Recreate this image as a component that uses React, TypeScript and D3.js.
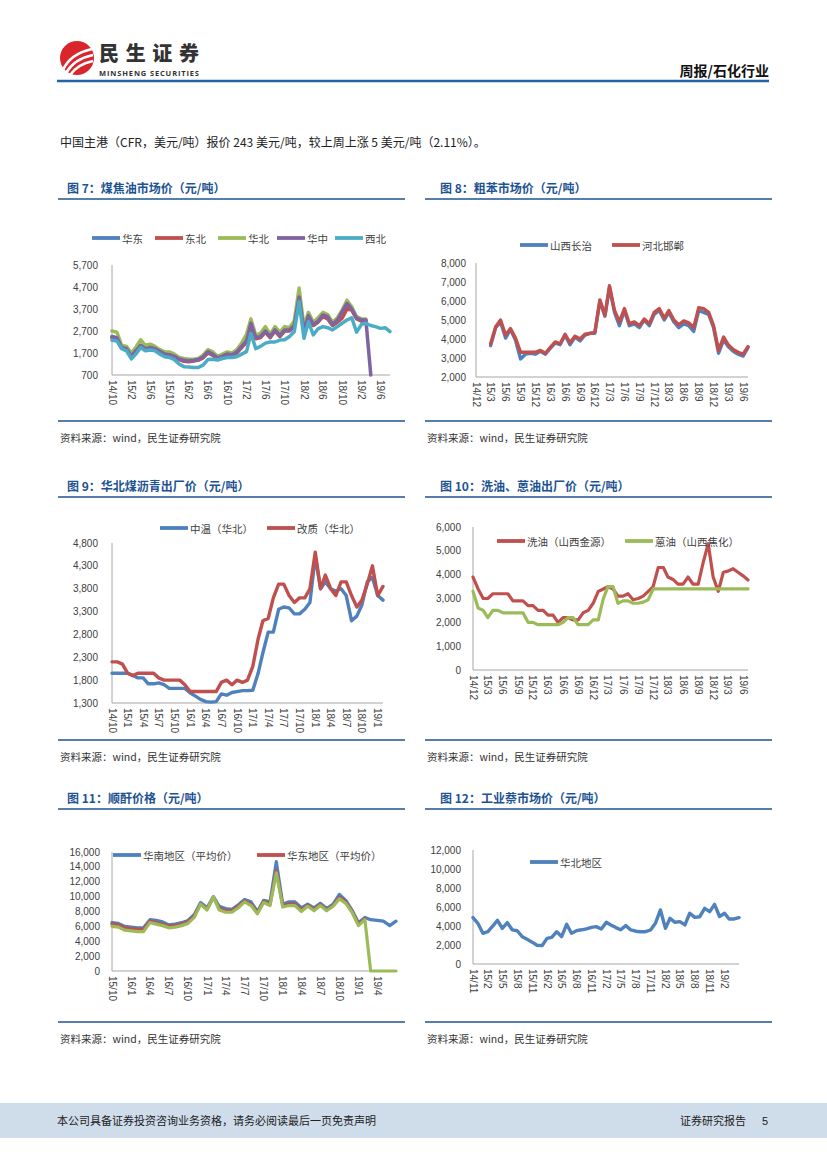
import React, { useEffect, useRef } from 'react';
import * as d3 from 'd3';

// ---------- 图7 煤焦油市场价 (monthly from 14/10)
const C7_START = '2014-10';
const C7_X_LABELS = ['14/10', '15/2', '15/6', '15/10', '16/2', '16/6', '16/10', '17/2', '17/6', '17/10', '18/2', '18/6', '18/10', '19/2', '19/6'];
const C7_Y_TICKS = [700, 1700, 2700, 3700, 4700, 5700];
const C7_HUADONG = [2420, 2360, 1930, 1870, 1530, 1780, 2020, 1880, 1920, 1870, 1760, 1630, 1600, 1530, 1420, 1350, 1330, 1350, 1390, 1500, 1730, 1620, 1460, 1540, 1620, 1600, 1720, 1970, 2220, 3000, 2370, 2420, 2680, 2420, 2720, 2470, 2720, 2720, 2920, 4180, 2670, 3370, 2970, 3120, 3400, 3300, 2970, 3150, 3450, 3850, 3680, 3280, 3170, 3180, null, null, null, null, null];
const C7_DONGBEI = [2380, 2330, 1920, 1850, 1520, 1760, 2000, 1860, 1900, 1850, 1740, 1620, 1580, 1520, 1400, 1320, 1300, 1330, 1380, 1480, 1700, 1600, 1450, 1520, 1600, 1580, 1700, 1950, 2200, 2950, 2350, 2400, 2650, 2400, 2700, 2450, 2700, 2700, 2900, 4100, 2650, 3350, 2950, 3100, 3350, 3250, 2950, 3100, 3280, 3700, 3650, 3250, 3150, 3150, null, null, null, null, null];
const C7_HUABEI = [2700, 2650, 2050, 2000, 1700, 1950, 2300, 2050, 2100, 2000, 1850, 1750, 1750, 1650, 1500, 1450, 1420, 1420, 1450, 1600, 1850, 1750, 1550, 1650, 1750, 1700, 1850, 2150, 2550, 3250, 2500, 2600, 2900, 2550, 2900, 2650, 2900, 2850, 3150, 4650, 2900, 3550, 3100, 3300, 3550, 3450, 3100, 3300, 3650, 4100, 3800, 3350, 3250, 3250, null, null, null, null, null];
const C7_HUAZHONG = [2450, 2400, 1950, 1900, 1550, 1800, 2050, 1900, 1950, 1900, 1780, 1650, 1620, 1550, 1430, 1370, 1350, 1370, 1400, 1520, 1760, 1650, 1480, 1560, 1650, 1620, 1750, 2000, 2250, 3050, 2400, 2450, 2700, 2450, 2750, 2500, 2750, 2750, 2950, 4250, 2700, 3400, 3000, 3150, 3430, 3350, 3000, 3200, 3580, 3950, 3700, 3300, 3200, 3200, 700, null, null, null, null];
const C7_XIBEI = [2280, 2250, 1900, 1800, 1430, 1650, 1950, 1800, 1840, 1800, 1650, 1530, 1500, 1400, 1200, 1080, 1060, 1040, 1040, 1150, 1400, 1420, 1380, 1450, 1490, 1500, 1530, 1650, 1760, 2590, 1900, 2000, 2150, 2200, 2200, 2290, 2300, 2450, 2670, 4030, 2370, 3120, 2520, 2800, 2900, 2850, 2750, 2900, 3050, 3200, 3300, 2650, 3000, 3050, 2950, 2900, 2820, 2850, 2670];

// ---------- 图8 粗苯市场价 (monthly from 15/3)
const C8_START = '2015-03';
const C8_X_LABELS = ['14/12', '15/3', '15/6', '15/9', '15/12', '16/3', '16/6', '16/9', '16/12', '17/3', '17/6', '17/9', '17/12', '18/3', '18/6', '18/9', '18/12', '19/3', '19/6'];
const C8_Y_TICKS = [2000, 3000, 4000, 5000, 6000, 7000, 8000];
const C8_CHANGZHI = [3650, 4600, 4900, 4050, 4500, 3950, 2950, 3200, 3250, 3200, 3350, 3200, 3500, 3800, 3700, 4200, 3700, 4100, 3900, 4200, 4300, 4300, 6000, 5200, 6700, 5400, 4700, 5500, 4700, 4800, 4600, 5000, 4700, 5300, 5500, 5000, 5400, 4900, 4600, 4800, 4700, 4400, 5500, 5400, 5300, 4600, 3250, 3950, 3600, 3350, 3200, 3100, 3550];
const C8_HANDAN = [3750, 4650, 5000, 4200, 4550, 4050, 3300, 3300, 3300, 3300, 3400, 3250, 3550, 3850, 3750, 4250, 3800, 4150, 4000, 4250, 4300, 4350, 6050, 5250, 6800, 5500, 4900, 5600, 4800, 4900, 4700, 5050, 4800, 5400, 5600, 5100, 5500, 5000, 4750, 4950, 4850, 4600, 5650, 5600, 5400, 4700, 3400, 4100, 3700, 3450, 3300, 3200, 3600];

// ---------- 图9 华北煤沥青出厂价 (monthly from 14/10)
const C9_START = '2014-10';
const C9_X_LABELS = ['14/10', '15/1', '15/4', '15/7', '15/10', '16/1', '16/4', '16/7', '16/10', '17/1', '17/4', '17/7', '17/10', '18/1', '18/4', '18/7', '18/10', '19/1'];
const C9_Y_TICKS = [1300, 1800, 2300, 2800, 3300, 3800, 4300, 4800];
const C9_ZHONGWEN = [1950, 1950, 1950, 1950, 1900, 1850, 1850, 1720, 1720, 1740, 1700, 1620, 1620, 1620, 1620, 1520, 1450, 1380, 1330, 1320, 1330, 1500, 1470, 1530, 1550, 1570, 1570, 1580, 1950, 2400, 2850, 2850, 3350, 3400, 3380, 3250, 3250, 3350, 3500, 4500, 3800, 3950, 3800, 3750, 3800, 3650, 3100, 3200, 3450, 3950, 4050, 3650, 3550];
const C9_GAIZHI = [2200, 2200, 2150, 1950, 1900, 1950, 1950, 1950, 1950, 1850, 1800, 1800, 1800, 1800, 1700, 1550, 1550, 1550, 1550, 1550, 1550, 1750, 1800, 1700, 1800, 1750, 1800, 2100, 2700, 3100, 3150, 3600, 3900, 3900, 3650, 3500, 3600, 3600, 3800, 4600, 3800, 4100, 3800, 3650, 3950, 3950, 3650, 3400, 3550, 3900, 4300, 3650, 3850];

// ---------- 图10 洗油、蒽油出厂价 (monthly from 14/12)
const C10_START = '2014-12';
const C10_X_LABELS = ['14/12', '15/3', '15/6', '15/9', '15/12', '16/3', '16/6', '16/9', '16/12', '17/3', '17/6', '17/9', '17/12', '18/3', '18/6', '18/9', '18/12', '19/3', '19/6'];
const C10_Y_TICKS = [0, 1000, 2000, 3000, 4000, 5000, 6000];
const C10_XIYOU = [3900, 3400, 3000, 3000, 3200, 3200, 3200, 3200, 2900, 2900, 2900, 2700, 2700, 2500, 2500, 2300, 2300, 2000, 2200, 2200, 2100, 2100, 2400, 2500, 2800, 3300, 3400, 3500, 3400, 3100, 3100, 3200, 2950, 3000, 3100, 3300, 3500, 4300, 4300, 3900, 3800, 3600, 3600, 3900, 3600, 3600, 4500, 5300, 3900, 3300, 4100, 4150, 4250, 4100, 3950, 3780];
const C10_ENYOU = [3300, 2600, 2500, 2200, 2500, 2500, 2400, 2400, 2400, 2400, 2400, 2000, 2000, 1900, 1900, 1900, 1900, 1900, 2000, 2200, 2200, 1900, 1900, 1900, 2100, 2100, 3000, 3500, 3500, 2800, 2900, 2900, 2800, 2800, 2850, 2950, 3400, 3400, 3400, 3400, 3400, 3400, 3400, 3400, 3400, 3400, 3400, 3400, 3400, 3400, 3400, 3400, 3400, 3400, 3400, 3400];

// ---------- 图11 顺酐价格 (monthly from 15/10)
const C11_START = '2015-10';
const C11_X_LABELS = ['15/10', '16/1', '16/4', '16/7', '16/10', '17/1', '17/4', '17/7', '17/10', '18/1', '18/4', '18/7', '18/10', '19/1', '19/4'];
const C11_Y_TICKS = [0, 2000, 4000, 6000, 8000, 10000, 12000, 14000, 16000];
const C11_HUANAN = [6500, 6400, 6000, 5900, 5800, 5800, 6900, 6800, 6600, 6200, 6300, 6500, 6800, 7600, 9200, 8500, 10000, 8700, 8400, 8300, 8900, 9600, 9300, 8000, 9500, 9300, 14700, 9000, 9300, 9300, 8500, 9000, 8500, 9100, 8400, 9000, 10300, 9500, 8200, 6500, 7200, 6900, 6800, 6700, 6100, 6700];
const C11_HUADONG = [6300, 6200, 5800, 5700, 5600, 5600, 6700, 6500, 6300, 6000, 6100, 6300, 6600, 7400, 9000, 8300, 9900, 8400, 8100, 8100, 8700, 9400, 9000, 7800, 9300, 9000, 13500, 8800, 9000, 9000, 8200, 8800, 8300, 8900, 8200, 8800, 9900, 9300, 8000, 6300, 7000, null, null, null, null, null];
const C11_OTHER = [6000, 5900, 5500, 5400, 5300, 5300, 6500, 6300, 6100, 5800, 5900, 6100, 6400, 7200, 9000, 8200, 10000, 8200, 7900, 7900, 8500, 9300, 8800, 7700, 9200, 8800, 13200, 8600, 8800, 8800, 8000, 8700, 8100, 8800, 8100, 8700, 9700, 9100, 7900, 6100, 6900, 0, 0, 0, 0, 0];

// ---------- 图12 工业萘市场价 (monthly from 14/11)
const C12_START = '2014-11';
const C12_X_LABELS = ['14/11', '15/2', '15/5', '15/8', '15/11', '16/2', '16/5', '16/8', '16/11', '17/2', '17/5', '17/8', '17/11', '18/2', '18/5', '18/8', '18/11', '19/2'];
const C12_Y_TICKS = [0, 2000, 4000, 6000, 8000, 10000, 12000];
const C12_HUABEI = [4880, 4280, 3230, 3400, 3950, 4600, 3750, 4350, 3600, 3500, 2880, 2600, 2300, 1980, 1930, 2700, 2800, 3400, 2880, 4180, 3230, 3510, 3600, 3700, 3850, 3930, 3690, 4390, 4110, 3830, 3600, 4040, 3600, 3450, 3400, 3400, 3580, 4280, 5690, 3750, 4810, 4390, 4460, 4110, 5340, 4910, 4980, 5860, 5510, 6280, 5000, 5340, 4740, 4740, 4880];

const BLUE = '#4f81bd';
const RED = '#c0504d';
const GREEN = '#9bbb59';
const PURPLE = '#8064a2';
const CYAN = '#4bacc6';
const NAVY = '#1d5392';
const CJK = '"Noto Sans CJK SC", sans-serif';
const LAT = '"Liberation Sans", Arial, sans-serif';

interface Series {
  name: string;
  values: (number | null)[];
  color: string;
}

interface ChartCfg {
  start: string;
  domain: [string, string];
  xRange: [number, number];
  yRange: [number, number];
  yDomain: [number, number];
  yTicks: number[];
  xLabels: string[];
  series: Series[];
  lineWidth: number;
  labelGap: number;
  legendY: number;
  legendXs: number[];
}

const parseYM = (s: string) => {
  const [y, m] = s.split('-').map(Number);
  return new Date(y, m - 1, 1);
};
const parseLabel = (s: string) => {
  const [y, m] = s.split('/').map(Number);
  return new Date(2000 + y, m - 1, 1);
};

const charts: ChartCfg[] = [
  {
    start: C7_START, domain: ['2014-10', '2019-08'], xRange: [112, 390], yRange: [375, 265],
    yDomain: [700, 5700], yTicks: C7_Y_TICKS, xLabels: C7_X_LABELS, lineWidth: 3.5, labelGap: 14,
    series: [
      { name: '华东', values: C7_HUADONG, color: BLUE },
      { name: '东北', values: C7_DONGBEI, color: RED },
      { name: '华北', values: C7_HUABEI, color: GREEN },
      { name: '华中', values: C7_HUAZHONG, color: PURPLE },
      { name: '西北', values: C7_XIBEI, color: CYAN },
    ],
    legendY: 238, legendXs: [92, 155, 218, 277, 335],
  },
  {
    start: C8_START, domain: ['2014-12', '2019-07'], xRange: [476, 748], yRange: [377, 263],
    yDomain: [2000, 8000], yTicks: C8_Y_TICKS, xLabels: C8_X_LABELS, lineWidth: 3.4, labelGap: 10,
    series: [
      { name: '山西长治', values: C8_CHANGZHI, color: BLUE },
      { name: '河北邯郸', values: C8_HANDAN, color: RED },
    ],
    legendY: 245, legendXs: [520, 612],
  },
  {
    start: C9_START, domain: ['2014-10', '2019-02'], xRange: [112, 383], yRange: [703, 543],
    yDomain: [1300, 4800], yTicks: C9_Y_TICKS, xLabels: C9_X_LABELS, lineWidth: 3.4, labelGap: 14,
    series: [
      { name: '中温（华北）', values: C9_ZHONGWEN, color: BLUE },
      { name: '改质（华北）', values: C9_GAIZHI, color: RED },
    ],
    legendY: 528, legendXs: [160, 267],
  },
  {
    start: C10_START, domain: ['2014-12', '2019-07'], xRange: [473, 748], yRange: [670, 527],
    yDomain: [0, 6000], yTicks: C10_Y_TICKS, xLabels: C10_X_LABELS, lineWidth: 3.2, labelGap: 12,
    series: [
      { name: '洗油（山西金源）', values: C10_XIYOU, color: RED },
      { name: '蒽油（山西焦化）', values: C10_ENYOU, color: GREEN },
    ],
    legendY: 541, legendXs: [497, 625],
  },
  {
    start: C11_START, domain: ['2015-10', '2019-07'], xRange: [112, 396], yRange: [971, 852],
    yDomain: [0, 16000], yTicks: C11_Y_TICKS, xLabels: C11_X_LABELS, lineWidth: 3.2, labelGap: 12,
    series: [
      { name: '华南地区（平均价）', values: C11_HUANAN, color: BLUE },
      { name: '华东地区（平均价）', values: C11_HUADONG, color: RED },
      { name: '', values: C11_OTHER, color: GREEN },
    ],
    legendY: 855, legendXs: [113, 257],
  },
  {
    start: C12_START, domain: ['2014-11', '2019-05'], xRange: [473, 739], yRange: [964, 850],
    yDomain: [0, 12000], yTicks: C12_Y_TICKS, xLabels: C12_X_LABELS, lineWidth: 3.4, labelGap: 12,
    series: [{ name: '华北地区', values: C12_HUABEI, color: BLUE }],
    legendY: 862, legendXs: [530],
  },
];

const panels = [
  { x0: 58, x1: 405, titleX: 67, title: '图 7：煤焦油市场价（元/吨）', top: 199, bottom: 421 },
  { x0: 425, x1: 772, titleX: 440, title: '图 8：粗苯市场价（元/吨）', top: 199, bottom: 421 },
  { x0: 58, x1: 405, titleX: 67, title: '图 9：华北煤沥青出厂价（元/吨）', top: 497, bottom: 740 },
  { x0: 425, x1: 772, titleX: 440, title: '图 10：洗油、蒽油出厂价（元/吨）', top: 497, bottom: 740 },
  { x0: 58, x1: 405, titleX: 67, title: '图 11：顺酐价格（元/吨）', top: 809, bottom: 1022 },
  { x0: 425, x1: 772, titleX: 440, title: '图 12：工业萘市场价（元/吨）', top: 809, bottom: 1022 },
];

const drawChart = (svg: d3.Selection<SVGSVGElement, unknown, null, undefined>, cfg: ChartCfg) => {
  const g = svg.append('g');
  const x = d3.scaleTime().domain([parseYM(cfg.domain[0]), parseYM(cfg.domain[1])]).range(cfg.xRange);
  const y = d3.scaleLinear().domain(cfg.yDomain).range(cfg.yRange);
  const [left, right] = cfg.xRange;
  const [bottom, top] = cfg.yRange;

  g.append('line').attr('x1', left).attr('x2', left).attr('y1', top).attr('y2', bottom)
    .attr('stroke', '#a6a6a6').attr('stroke-width', 1);
  g.append('line').attr('x1', left).attr('x2', right).attr('y1', bottom).attr('y2', bottom)
    .attr('stroke', '#a6a6a6').attr('stroke-width', 1);

  g.selectAll('text.ytick')
    .data(cfg.yTicks)
    .enter()
    .append('text')
    .attr('class', 'ytick')
    .attr('x', left - cfg.labelGap)
    .attr('y', d => y(d))
    .attr('text-anchor', 'end')
    .attr('dominant-baseline', 'central')
    .attr('font-family', LAT)
    .attr('font-size', '10px')
    .attr('fill', '#404040')
    .text(d => d3.format(',')(d));

  g.selectAll('text.xtick')
    .data(cfg.xLabels)
    .enter()
    .append('text')
    .attr('class', 'xtick')
    .attr('transform', d => `translate(${x(parseLabel(d))},${bottom + 5}) rotate(90)`)
    .attr('text-anchor', 'start')
    .attr('dominant-baseline', 'central')
    .attr('font-family', LAT)
    .attr('font-size', '10px')
    .attr('fill', '#404040')
    .text(d => d);

  const start = parseYM(cfg.start);
  cfg.series.forEach(s => {
    const line = d3.line<number | null>()
      .defined(v => v != null)
      .x((_, i) => x(d3.timeMonth.offset(start, i)))
      .y(v => y(v as number));
    g.append('path')
      .attr('d', line(s.values))
      .attr('fill', 'none')
      .attr('stroke', s.color)
      .attr('stroke-width', cfg.lineWidth)
      .attr('stroke-linejoin', 'round')
      .attr('stroke-linecap', 'round');
  });

  cfg.legendXs.forEach((lx, i) => {
    const s = cfg.series[i];
    g.append('line').attr('x1', lx).attr('x2', lx + 28).attr('y1', cfg.legendY).attr('y2', cfg.legendY)
      .attr('stroke', s.color).attr('stroke-width', 3.8);
    g.append('text')
      .attr('x', lx + 30)
      .attr('y', cfg.legendY)
      .attr('dominant-baseline', 'central')
      .attr('font-family', CJK)
      .attr('font-size', '10.5px')
      .attr('fill', '#404040')
      .text(s.name);
  });
};

const App: React.FC = () => {
  const svgRef = useRef<SVGSVGElement | null>(null);

  useEffect(() => {
    if (!svgRef.current) return;
    const svg = d3.select(svgRef.current);
    svg.selectAll('*').remove();

    svg.append('rect').attr('width', 827).attr('height', 1169).attr('fill', '#fff');

    // header logo
    const logo = svg.append('g');
    logo.append('circle').attr('cx', 77).attr('cy', 58).attr('r', 17).attr('fill', '#d9252c');
    ['M63 70 Q70 54 92 49', 'M66 73 Q74 59 93 55', 'M70 75 Q78 64 93 61'].forEach(p => {
      logo.append('path').attr('d', p).attr('fill', 'none').attr('stroke', '#fff').attr('stroke-width', 2.6);
    });
    logo.append('text').attr('x', 99).attr('y', 61).attr('font-family', CJK).attr('font-weight', 900)
      .attr('font-size', '20px').attr('fill', '#333').attr('textLength', 100).text('民生证券');
    logo.append('text').attr('x', 99).attr('y', 76).attr('font-family', '"Open Sans", sans-serif').attr('font-weight', 700)
      .attr('font-size', '7.5px').attr('fill', '#333').attr('textLength', 100).text('MINSHENG SECURITIES');
    svg.append('text').attr('x', 769).attr('y', 76).attr('text-anchor', 'end').attr('font-family', CJK)
      .attr('font-weight', 700).attr('font-size', '14px').attr('fill', '#111').text('周报/石化行业');
    svg.append('line').attr('x1', 57).attr('x2', 769).attr('y1', 81).attr('y2', 81)
      .attr('stroke', '#2563a6').attr('stroke-width', 2.5);

    svg.append('text').attr('x', 60).attr('y', 147).attr('font-family', CJK).attr('font-size', '12px')
      .attr('fill', '#222').text('中国主港（CFR，美元/吨）报价 243 美元/吨，较上周上涨 5 美元/吨（2.11%）。');

    panels.forEach(p => {
      svg.append('text').attr('x', p.titleX).attr('y', p.top - 6).attr('font-family', CJK)
        .attr('font-weight', 700).attr('font-size', '12px').attr('fill', NAVY).text(p.title);
      svg.append('line').attr('x1', p.x0).attr('x2', p.x1).attr('y1', p.top).attr('y2', p.top)
        .attr('stroke', NAVY).attr('stroke-width', 1.5);
      svg.append('line').attr('x1', p.x0).attr('x2', p.x1).attr('y1', p.bottom).attr('y2', p.bottom)
        .attr('stroke', NAVY).attr('stroke-width', 1.5);
      svg.append('text').attr('x', p.x0 + 2).attr('y', p.bottom + 21).attr('font-family', CJK)
        .attr('font-size', '10.5px').attr('fill', '#333').text('资料来源：wind，民生证券研究院');
    });

    charts.forEach(c => drawChart(svg, c));

    // footer
    svg.append('rect').attr('x', 0).attr('y', 1103).attr('width', 827).attr('height', 35).attr('fill', '#cfdcea');
    svg.append('text').attr('x', 57).attr('y', 1125).attr('font-family', CJK).attr('font-size', '11px')
      .attr('fill', '#222').text('本公司具备证券投资咨询业务资格，请务必阅读最后一页免责声明');
    svg.append('text').attr('x', 680).attr('y', 1125).attr('font-family', CJK).attr('font-size', '11px')
      .attr('fill', '#222').text('证券研究报告');
    svg.append('text').attr('x', 762).attr('y', 1125).attr('font-family', LAT).attr('font-size', '11px')
      .attr('fill', '#222').text('5');
  }, []);

  return (
    <div style={{ position: 'absolute', left: 0, top: 0 }}>
      <svg ref={svgRef} width={827} height={1169} style={{ display: 'block' }} />
    </div>
  );
};

export default App;
